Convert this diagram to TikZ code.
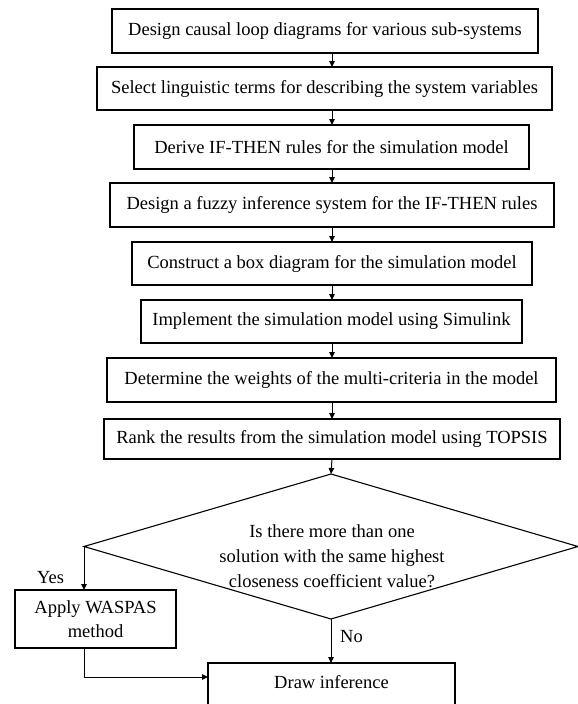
\documentclass[tikz,border=0pt]{standalone}
\usepackage{fontspec}
\setmainfont{Liberation Serif}
\usetikzlibrary{arrows.meta, positioning, shapes.geometric, calc}
\tikzset{
  block/.style   ={rectangle, draw=black, line width=1.1pt, align=center,
                   inner sep=0pt, outer sep=0pt,
                   font=\fontsize{18.5}{24.5}\selectfont},
  decision/.style={diamond, draw=black, line width=1.1pt,
                   inner sep=0pt, outer sep=0pt},
  qtext/.style   ={align=center, inner sep=0pt,
                   font=\fontsize{18.5}{25}\selectfont},
  tag/.style     ={inner sep=0pt, font=\fontsize{18.5}{22}\selectfont},
  arrow/.style   ={-{Triangle[length=6pt, width=5.5pt]}, line width=1pt, black}
}

\begin{document}
\begin{tikzpicture}[x=1pt, y=-1pt]
\useasboundingbox (0,0) rectangle (578,704);
\clip (0,0) rectangle (578,704);

% Process steps (top to bottom)
\node[block, minimum width=426pt, minimum height=44pt] (causal) at (325,31)
     {Design causal loop diagrams for various sub-systems};
\node[block, minimum width=455pt, minimum height=43pt] (terms)  at (324.5,88.5)
     {Select linguistic terms for describing the system variables};
\node[block, minimum width=395pt, minimum height=44pt] (rules)  at (331.5,147)
     {Derive IF-THEN rules for the simulation model};
\node[block, minimum width=444pt, minimum height=44pt] (fis)    at (332,205)
     {Design a fuzzy inference system for the IF-THEN rules};
\node[block, minimum width=400pt, minimum height=43pt] (boxd)   at (332,263.5)
     {Construct a box diagram for the simulation model};
\node[block, minimum width=381pt, minimum height=43pt] (simlk)  at (331.5,321.5)
     {Implement the simulation model using Simulink};
\node[block, minimum width=449pt, minimum height=44pt] (weight) at (331.5,380)
     {Determine the weights of the multi-criteria in the model};
\node[block, minimum width=456pt, minimum height=40pt] (rank)   at (332,439)
     {Rank the results from the simulation model using TOPSIS};

% Decision
\node[decision, minimum width=494pt, minimum height=145pt] (dec) at (331,546.5) {};
\node[qtext] (question) at (332,556)
     {Is there more than one\\solution with the same highest\\closeness coefficient value?};

% Outcomes
\node[block, minimum width=161pt, minimum height=58pt] (waspas) at (95.5,619)
     {Apply WASPAS\\method};
\node[block, minimum width=247pt, anchor=north, text height=25pt, text depth=40pt]
     (infer) at (331.5,663) {Draw inference};

\node[tag] (yes) at (50.5,578)   {Yes};
\node[tag] (no)  at (351.5,636.5) {No};

% Connectors
\coordinate (axis) at (332,0);
\foreach \a/\b in {causal/terms, terms/rules, rules/fis, fis/boxd,
                   boxd/simlk, simlk/weight, weight/rank}{
  \draw[arrow] (\a.south -| axis) -- (\b.north -| axis);
}
\draw[arrow] (rank.south -| axis) -- (dec.north);
\draw[arrow] (dec.west) -- (dec.west |- waspas.north);
\draw[arrow] (dec.south) -- (dec.south |- infer.north);
\draw[arrow] (waspas.south -| dec.west) |- ($(infer.base west)+(0,-11)$);
\end{tikzpicture}
\end{document}
